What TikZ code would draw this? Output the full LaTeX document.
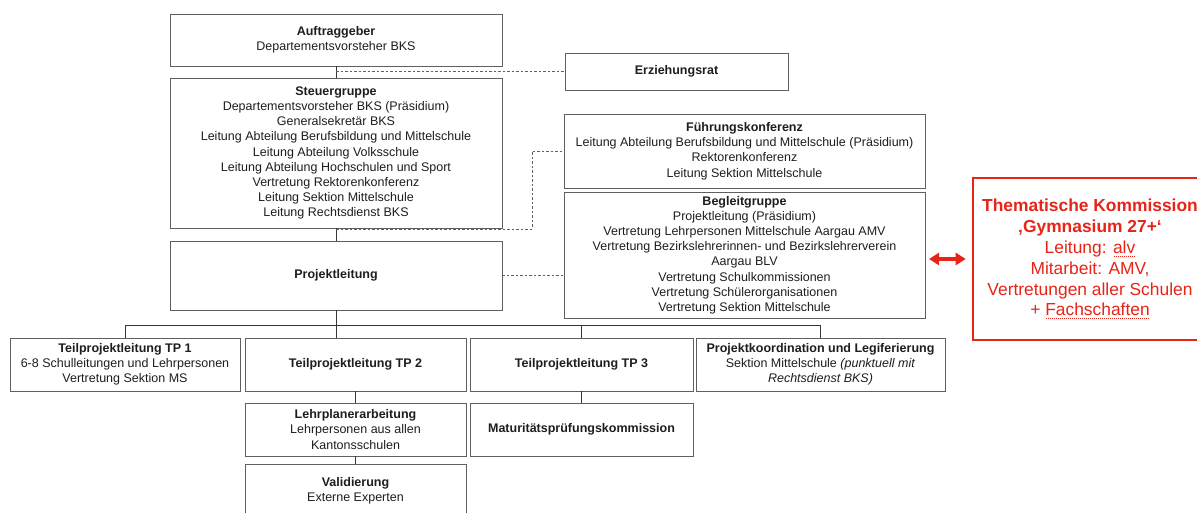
\documentclass[tikz,border=0pt]{standalone}
\usepackage{fontspec}
\setmainfont{Liberation Sans}
\usetikzlibrary{arrows.meta}
\definecolor{boxline}{RGB}{95,95,95}
\definecolor{conn}{RGB}{55,55,55}
\definecolor{redk}{RGB}{232,36,24}
\definecolor{txt}{RGB}{30,30,30}
\newsavebox\dotulbox
\newcommand\dotul[1]{\sbox\dotulbox{#1}\rlap{\raisebox{-3pt}{\hbox to \wd\dotulbox{\leaders\hbox to 2pt{\hss\rule{0.8pt}{0.8pt}\hss}\hfill}}}\usebox\dotulbox}
\begin{document}
\begin{tikzpicture}[x=1pt,y=-1pt,
  orgbox/.style={draw=boxline, line width=0.9pt, rectangle, inner sep=0pt, align=center,
    font=\fontsize{12.5}{15.2}\selectfont, text=txt},
  solidline/.style={draw=conn, line width=0.9pt},
  dashline/.style={draw=boxline, line width=0.8pt, dash pattern=on 2.5pt off 2pt},
  redbox/.style={draw=redk, line width=2.6pt, rectangle, inner sep=0pt, align=center,
    font=\fontsize{17.4}{20.8}\selectfont, text=redk},
  redarrow/.style={draw=redk, line width=3.2pt, {Triangle[width=12pt,length=10pt]}-{Triangle[width=12pt,length=10pt]}}
]
\useasboundingbox (0,0) rectangle (1197,513);
\clip (0,0) rectangle (1197,513);
\fill[white] (0,0) rectangle (1197,513);

\node[orgbox, minimum width=332pt, minimum height=52pt] (auf) at (336,40)
  {\textbf{Auftraggeber}\\Departementsvorsteher BKS};
\node[orgbox, minimum width=332pt, minimum height=150pt] (steu) at (336,153)
  {\textbf{Steuergruppe}\\Departementsvorsteher BKS (Präsidium)\\Generalsekretär BKS\\Leitung Abteilung Berufsbildung und Mittelschule\\Leitung Abteilung Volksschule\\Leitung Abteilung Hochschulen und Sport\\Vertretung Rektorenkonferenz\\Leitung Sektion Mittelschule\\Leitung Rechtsdienst BKS};
\node[orgbox, minimum width=332pt, minimum height=69pt] (proj) at (336,275.5)
  {\textbf{Projektleitung}};
\node[orgbox, minimum width=223pt, minimum height=37pt] (erz) at (676.5,71.5)
  {\textbf{Erziehungsrat}};
\node[orgbox, minimum width=361pt, minimum height=74pt] (fk) at (744.5,151)
  {\textbf{Führungskonferenz}\\Leitung Abteilung Berufsbildung und Mittelschule (Präsidium)\\Rektorenkonferenz\\Leitung Sektion Mittelschule};
\node[orgbox, minimum width=361pt, minimum height=126pt] (beg) at (744.5,255)
  {\textbf{Begleitgruppe}\\Projektleitung (Präsidium)\\Vertretung Lehrpersonen Mittelschule Aargau AMV\\Vertretung Bezirkslehrerinnen- und Bezirkslehrerverein\\Aargau BLV\\Vertretung Schulkommissionen\\Vertretung Schülerorganisationen\\Vertretung Sektion Mittelschule};
\node[orgbox, minimum width=230pt, minimum height=53pt] (tp1) at (125,364.5)
  {\textbf{Teilprojektleitung TP 1}\\6-8 Schulleitungen und Lehrpersonen\\Vertretung Sektion MS};
\node[orgbox, minimum width=221pt, minimum height=53pt] (tp2) at (355.5,364.5)
  {\textbf{Teilprojektleitung TP 2}};
\node[orgbox, minimum width=223pt, minimum height=53pt] (tp3) at (581.5,364.5)
  {\textbf{Teilprojektleitung TP 3}};
\node[orgbox, minimum width=249pt, minimum height=53pt] (pk) at (820.5,364.5)
  {\textbf{Projektkoordination und Legiferierung}\\Sektion Mittelschule \textit{(punktuell mit}\\\textit{Rechtsdienst BKS)}};
\node[orgbox, minimum width=221pt, minimum height=53pt] (lpa) at (355.5,429.5)
  {\textbf{Lehrplanerarbeitung}\\Lehrpersonen aus allen\\Kantonsschulen};
\node[orgbox, minimum width=223pt, minimum height=53pt] (mat) at (581.5,429.5)
  {\textbf{Maturitätsprüfungskommission}};
\node[orgbox, minimum width=221pt, minimum height=54pt] (val) at (355.5,491)
  {\textbf{Validierung}\\Externe Experten};

\node[redbox, minimum width=234pt, minimum height=162pt] (them) at (1090,259)
  {\textbf{Thematische Kommission}\\\textbf{‚Gymnasium 27+‘}\\Leitung: \dotul{alv}\\Mitarbeit: AMV,\\Vertretungen aller Schulen\\+ \dotul{Fachschaften}};

% solid connectors
\draw[solidline] (auf.south) -- (steu.north);
\draw[solidline] (steu.south) -- (proj.north);
\coordinate (bus) at (0,325);
\draw[solidline] (proj.south) -- (proj.south |- tp2.north);
\draw[solidline] (tp1.north) |- (bus -| pk.north) -- (pk.north);
\draw[solidline] (tp3.north) -- (tp3.north |- bus);
\draw[solidline] (tp2.south) -- (lpa.north);
\draw[solidline] (lpa.south) -- (val.north);
\draw[solidline] (tp3.south) -- (mat.north);

% dashed connectors
\coordinate (d1) at (336,71.5);
\draw[dashline] (d1) -- (erz.west);
\coordinate (d2) at (532,229);
\draw[dashline] (steu.south |- d2) -- (d2) |- (fk.west);
\draw[dashline] (proj.east) -- (proj.east -| beg.west);

% red arrow
\coordinate (ra) at (929,259);
\draw[redarrow] (ra) -- ([xshift=-6pt]them.west);
\end{tikzpicture}
\end{document}
